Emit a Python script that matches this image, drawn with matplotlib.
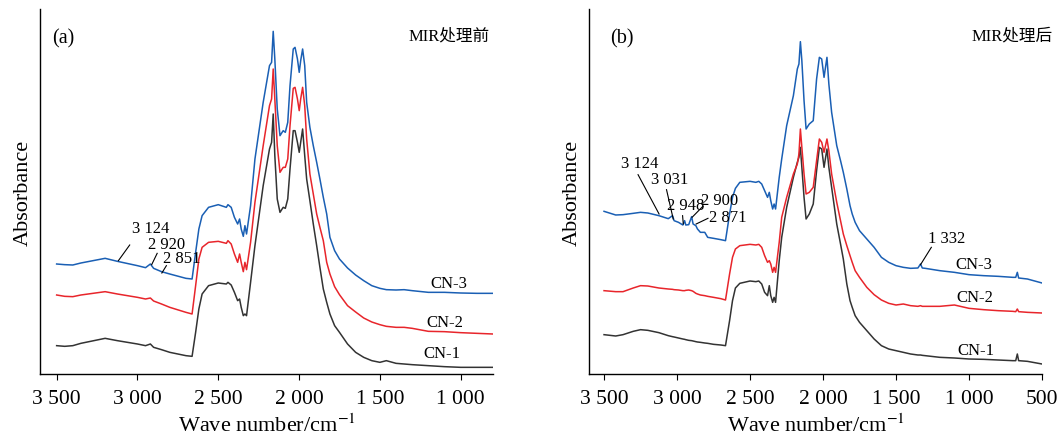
import matplotlib
matplotlib.use('Agg')
import matplotlib.pyplot as plt
from matplotlib.ticker import FuncFormatter

plt.rcParams['font.family'] = ['Liberation Serif', 'Noto Sans CJK SC']
plt.rcParams['mathtext.fontset'] = 'stix'

# ---- (a) MIR处理前 ----
wn_a = [3500, 3450, 3400, 3350, 3200, 3124, 3000, 2950, 2920, 2900, 2851, 2800, 2700, 2662,
        2640, 2620, 2600, 2560, 2500, 2450, 2440, 2420, 2400, 2380, 2368, 2358, 2345, 2335,
        2325, 2300, 2273, 2222, 2183, 2170, 2160, 2150, 2135, 2118, 2105, 2098, 2085, 2070,
        2056, 2036, 2025, 2010, 1999, 1990, 1978, 1965, 1953, 1933, 1912, 1891, 1871, 1850,
        1829, 1809, 1780, 1750, 1700, 1650, 1600, 1550, 1500, 1460, 1400, 1350, 1300, 1200,
        1100, 1000, 900, 800]
cn3_a = [.330, .328, .327, .333, .347, .338, .325, .319, .330, .317, .307, .300, .287, .285,
         .365, .435, .475, .500, .508, .500, .508, .500, .470, .450, .465, .435, .413, .445,
         .420, .505, .645, .815, .925, .935, 1.028, .945, .795, .715, .725, .730, .725, .755,
         .865, .975, .980, .945, .905, .940, .975, .925, .815, .740, .685, .635, .585, .530,
         .480, .410, .370, .345, .318, .297, .280, .265, .257, .253, .252, .253, .250, .245,
         .245, .243, .242, .242]
cn2_a = [.237, .233, .232, .237, .247, .240, .230, .225, .228, .219, .210, .200, .185, .180,
         .265, .345, .380, .395, .398, .392, .400, .390, .360, .335, .360, .335, .307, .335,
         .313, .395, .515, .685, .805, .825, .915, .825, .685, .605, .615, .620, .620, .645,
         .745, .857, .860, .825, .790, .825, .860, .805, .705, .600, .540, .480, .440, .400,
         .335, .300, .262, .238, .205, .186, .168, .156, .148, .143, .140, .140, .137, .128,
         .127, .124, .122, .120]
cn1_a = [.085, .083, .085, .092, .107, .100, .090, .085, .090, .080, .073, .065, .055, .053,
         .125, .195, .240, .265, .273, .270, .275, .267, .245, .220, .225, .200, .175, .180,
         .175, .275, .385, .565, .675, .695, .780, .655, .525, .485, .495, .500, .497, .525,
         .615, .730, .730, .695, .665, .695, .735, .655, .585, .520, .450, .385, .320, .255,
         .215, .180, .145, .125, .090, .065, .050, .040, .035, .040, .032, .030, .028, .025,
         .022, .020, .020, .020]

# ---- (b) MIR处理后 ----
wn_b = [3500, 3420, 3370, 3300, 3250, 3200, 3124, 3060, 3031, 3020, 2990, 2960, 2948, 2940,
        2920, 2900, 2890, 2871, 2860, 2840, 2810, 2790, 2750, 2700, 2668, 2640, 2620, 2600,
        2570, 2500, 2460, 2440, 2420, 2400, 2380, 2368, 2358, 2345, 2335, 2325, 2300, 2283,
        2249, 2203, 2176, 2165, 2155, 2145, 2130, 2116, 2094, 2067, 2044, 2025, 2009, 1993,
        1973, 1960, 1941, 1906, 1880, 1861, 1837, 1815, 1800, 1780, 1750, 1700, 1650, 1600,
        1550, 1500, 1450, 1400, 1350, 1332, 1320, 1300, 1200, 1100, 1000, 900, 800, 700,
        680, 669, 660, 600, 500]
cn3_b = [.488, .477, .478, .482, .485, .483, .475, .466, .475, .460, .455, .447, .460, .447,
         .448, .472, .450, .445, .435, .425, .425, .410, .407, .403, .400, .480, .530, .557,
         .575, .578, .575, .578, .570, .550, .530, .545, .520, .495, .510, .495, .590, .645,
         .745, .835, .915, .930, .997, .940, .820, .735, .750, .760, .885, .950, .945, .890,
         .950, .870, .785, .685, .640, .605, .555, .505, .480, .455, .430, .405, .380, .350,
         .335, .325, .320, .317, .318, .330, .318, .317, .310, .305, .298, .295, .293, .290,
         .290, .305, .288, .285, .273]
cn2_b = [.250, .247, .247, .258, .265, .264, .258, .255, .254, .253, .252, .250, .250, .251,
         .252, .250, .248, .242, .240, .237, .235, .233, .230, .226, .222, .300, .350, .375,
         .385, .389, .387, .389, .380, .355, .335, .340, .330, .305, .320, .305, .395, .470,
         .530, .600, .630, .660, .735, .680, .600, .540, .545, .560, .640, .705, .695, .665,
         .705, .670, .600, .515, .460, .420, .385, .355, .335, .310, .290, .260, .238, .222,
         .212, .207, .210, .205, .203, .205, .203, .203, .203, .207, .197, .193, .190, .188,
         .187, .195, .187, .185, .183]
cn1_b = [.118, .114, .118, .128, .133, .131, .124, .115, .112, .111, .108, .105, .104, .103,
         .101, .100, .099, .097, .096, .095, .093, .092, .089, .087, .085, .160, .220, .258,
         .272, .279, .277, .279, .270, .245, .235, .265, .235, .215, .230, .215, .340, .410,
         .500, .590, .635, .650, .680, .620, .530, .465, .480, .510, .610, .680, .675, .620,
         .675, .620, .560, .450, .390, .345, .270, .220, .200, .175, .155, .130, .105, .085,
         .075, .070, .065, .060, .057, .057, .056, .055, .050, .048, .045, .044, .042, .040,
         .040, .060, .040, .038, .030]

sample_names = ['CN-1', 'CN-2', 'CN-3']
colors = ['#333333', '#e8252b', '#1a5fb4']

# peak labels: (text, peak point, end of leader, text position)
peaks_a = [('3 124', (3118, .340), (3048, .387), (2918, .437)),
           ('2 920', (2912, .328), (2878, .362), (2819, .390)),
           ('2 851', (2849, .303), (2821, .325), (2723, .347))]
peaks_b = [('3 124', (3123, .480), (3267, .598), (3257, .632)),
           ('3 031', (3026, .465), (3072, .553), (3052, .585)),
           ('2 948', (2957, .450), (2962, .475), (2943, .507)),
           ('2 900', (2897, .470), (2823, .503), (2707, .521)),
           ('2 871', (2869, .450), (2788, .467), (2654, .470)),
           ('1 332', (1332, .328), (1258, .380), (1154, .407))]


def tick_fmt(v, pos):
    return f'{int(round(v)):,}'.replace(',', ' ')


fig = plt.figure(figsize=(10.58, 4.35), dpi=100)
ax_a = fig.add_axes([40 / 1058, 60 / 435, 453 / 1058, 365 / 435])
ax_b = fig.add_axes([589 / 1058, 60 / 435, 453 / 1058, 365 / 435])

panels = [
    (ax_a, wn_a, [cn1_a, cn2_a, cn3_a], 800, [3500, 3000, 2500, 2000, 1500, 1000],
     '(a)', 3460, 'MIR处理前', 1074, [(1116, .063), (1099, .155), (1071, .272)], peaks_a),
    (ax_b, wn_b, [cn1_b, cn2_b, cn3_b], 500, [3500, 3000, 2500, 2000, 1500, 1000, 500],
     '(b)', 3375, 'MIR处理后', 708, [(951, .073), (960, .230), (965, .330)], peaks_b),
]

for ax, wn, series, x_end, ticks, tag, tag_x, title, title_x, name_pos, peaks in panels:
    for y, c in zip(series, colors):
        ax.plot(wn, y, color=c, lw=1.1)
    ax.set_xlim(3603, x_end)
    ax.set_ylim(0, 1.095)
    ax.set_xticks(ticks)
    ax.xaxis.set_major_formatter(FuncFormatter(tick_fmt))
    ax.set_yticks([])
    ax.tick_params(axis='x', direction='out', length=4.5, width=0.8, pad=6,
                   labelsize=15.5, color='black')
    for s in ['top', 'right']:
        ax.spines[s].set_visible(False)
    for s in ['left', 'bottom']:
        ax.spines[s].set_linewidth(1.0)
    ax.set_xlabel('Wave number/cm$^{-1}$', fontsize=16, labelpad=4)
    ax.set_ylabel('Absorbance', fontsize=16, labelpad=5)

    ax.text(tag_x, 1.007, tag, fontsize=14.5, ha='center', va='center')
    ax.text(title_x, 1.015, title, fontsize=12, ha='center', va='center')
    for name, (x, y) in zip(sample_names, name_pos):
        ax.text(x, y, name, fontsize=12, ha='center', va='center')
    for label, p0, p1, pt in peaks:
        ax.plot([p0[0], p1[0]], [p0[1], p1[1]], color='black', lw=0.8)
        ax.text(pt[0], pt[1], label, fontsize=12, ha='center', va='center')

fig.savefig('out.png', dpi=100)
